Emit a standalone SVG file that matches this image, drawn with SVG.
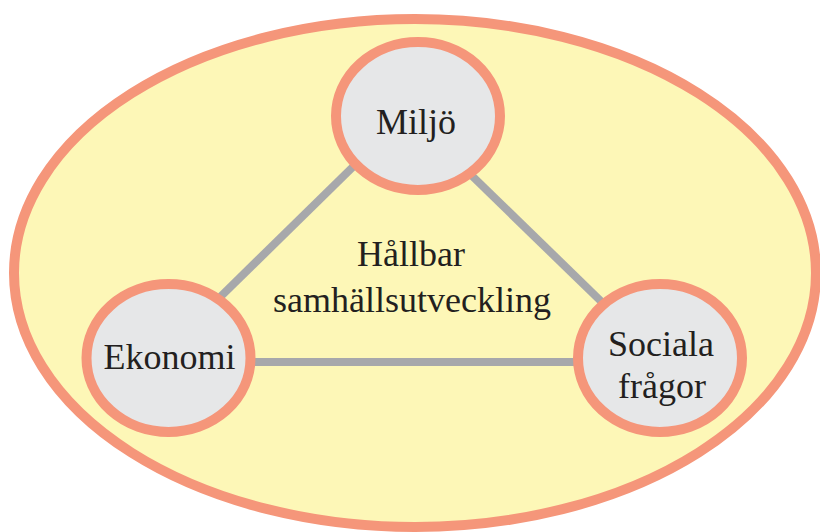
<svg xmlns="http://www.w3.org/2000/svg" width="820" height="532" viewBox="0 0 820 532">
  <style>
    .outer { fill: #FDF7B7; stroke: #F5967A; stroke-width: 10; }
    .node { fill: #E6E7E8; stroke: #F5967A; stroke-width: 10; }
    .conn { stroke: #A7A8AB; stroke-width: 8; fill: none; }
    .lbl { font-family: "Liberation Serif", "Times New Roman", serif; font-size: 36px; fill: #231F20; text-anchor: middle; }
  </style>
  <rect width="820" height="532" fill="#FFFFFF"/>
  <g id="background">
    <ellipse class="outer" cx="415" cy="273" rx="401" ry="254"/>
  </g>
  <g id="connectors">
    <line class="conn" x1="362" y1="158" x2="210" y2="307"/>
    <line class="conn" x1="466" y1="170" x2="610" y2="310"/>
    <line class="conn" x1="245" y1="362" x2="590" y2="362"/>
  </g>
  <text class="lbl" x="411" y="266">Hållbar</text>
  <text class="lbl" x="412" y="312">samhällsutveckling</text>
  <g id="miljo">
    <ellipse class="node" cx="418" cy="116" rx="82" ry="74"/>
    <text class="lbl" x="416" y="134">Miljö</text>
  </g>
  <g id="ekonomi">
    <ellipse class="node" cx="168.5" cy="358" rx="82" ry="74"/>
    <text class="lbl" x="169.5" y="369">Ekonomi</text>
  </g>
  <g id="sociala">
    <ellipse class="node" cx="660" cy="358" rx="82" ry="74"/>
    <text class="lbl" x="661" y="356">Sociala</text>
    <text class="lbl" x="662" y="398">frågor</text>
  </g>
</svg>
